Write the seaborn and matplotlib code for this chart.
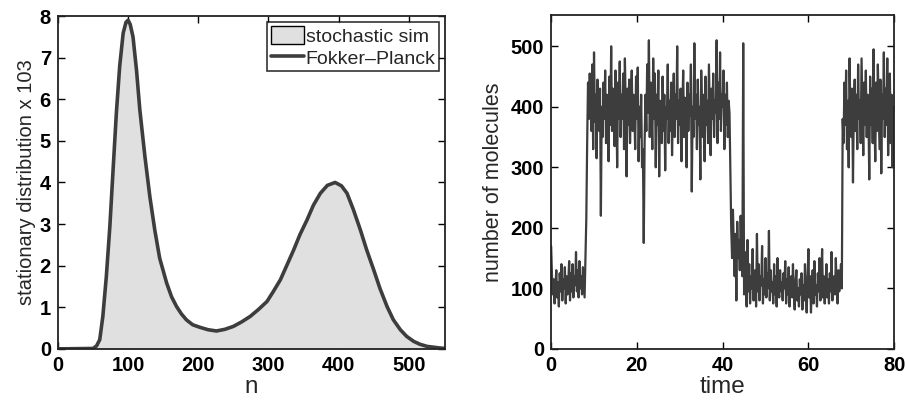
import numpy as np
import pandas as pd
import seaborn as sns
import matplotlib
matplotlib.use('Agg')
import matplotlib.pyplot as plt
from matplotlib.patches import Patch
from matplotlib.lines import Line2D

# left panel: stationary distribution (x 10^3)
n_vals = [0, 50, 55, 59.6, 64, 69, 74, 78.6, 83.3, 88, 93, 97, 100, 103, 107, 112,
          116.7, 124, 131, 138, 145, 155, 162, 169, 176, 183, 192, 202, 214, 226,
          238, 250, 262, 274, 286, 298, 307, 317, 326, 336, 345, 355, 364, 374, 384,
          395, 404, 412, 421, 431, 440, 450, 459, 469, 478, 488, 497, 507, 516, 526,
          545, 552]
p_vals = [0, 0.01, 0.07, 0.22, 0.78, 1.74, 2.94, 4.3, 5.67, 6.79, 7.59, 7.85, 7.9,
          7.8, 7.5, 6.7, 5.75, 4.62, 3.66, 2.86, 2.18, 1.58, 1.25, 1.02, 0.84, 0.70,
          0.58, 0.52, 0.46, 0.43, 0.47, 0.54, 0.65, 0.78, 0.95, 1.14, 1.38, 1.66, 2.0,
          2.38, 2.75, 3.1, 3.45, 3.74, 3.93, 4.0, 3.92, 3.74, 3.35, 2.86, 2.38, 1.9,
          1.45, 1.02, 0.7, 0.46, 0.3, 0.18, 0.11, 0.06, 0.02, 0.01]

# right panel: number of molecules, sampled every 0.2 time units
molecules = [
    170, 120, 90, 115, 75, 105, 130, 85, 110, 70,
    125, 95, 140, 80, 115, 100, 135, 75, 120, 90,
    110, 145, 80, 125, 95, 140, 85, 120, 105, 160,
    95, 130, 85, 145, 100, 120, 90, 135, 110, 85,
    150, 215, 340, 440, 380, 455, 400, 360, 470, 330,
    490, 375, 420, 315, 445, 390, 360, 430, 220, 400,
    350, 440, 380, 460, 340, 420, 400, 310, 450, 370,
    500, 360, 430, 390, 335, 460, 410, 300, 440, 380,
    475, 350, 420, 380, 455, 330, 480, 400, 285, 430,
    370, 445, 340, 410, 460, 360, 420, 390, 330, 450,
    380, 465, 310, 400, 350, 420, 300, 330, 175, 340,
    420, 360, 470, 390, 510, 350, 440, 400, 330, 480,
    380, 455, 300, 420, 370, 460, 285, 410, 390, 340,
    450, 360, 420, 295, 400, 380, 470, 340, 410, 360,
    440, 320, 400, 455, 350, 420, 380, 500, 340, 410,
    370, 430, 310, 400, 460, 350, 415, 380, 300, 440,
    360, 420, 385, 470, 260, 400, 350, 505, 380, 420,
    330, 445, 370, 400, 280, 460, 390, 350, 420, 310,
    450, 370, 410, 340, 470, 395, 320, 430, 380, 455,
    350, 410, 390, 510, 340, 440, 380, 490, 360, 420,
    400, 460, 330, 420, 370, 440, 350, 410, 390, 300,
    200, 150, 230, 170, 120, 190, 80, 210, 150, 180,
    130, 220, 160, 120, 505, 90, 160, 110, 70, 180,
    95, 140, 75, 120, 100, 165, 80, 115, 130, 70,
    190, 95, 140, 80, 120, 105, 170, 75, 115, 90,
    150, 85, 125, 100, 195, 80, 130, 95, 110, 75,
    140, 90, 120, 70, 150, 100, 85, 130, 95, 110,
    80, 125, 100, 145, 75, 115, 90, 135, 70, 105,
    120, 85, 140, 95, 65, 110, 130, 80, 100, 70,
    115, 90, 125, 65, 105, 80, 140, 95, 60, 110,
    165, 85, 120, 60, 100, 130, 75, 145, 90, 105,
    70, 125, 95, 150, 80, 110, 165, 85, 120, 75,
    100, 140, 85, 115, 75, 125, 95, 160, 80, 110,
    120, 90, 150, 100, 75, 130, 95, 115, 140, 100,
    380, 340, 440, 370, 460, 330, 410, 300, 480, 390,
    350, 430, 275, 400, 445, 360, 420, 330, 470, 380,
    410, 340, 480, 395, 320, 440, 370, 460, 350, 420,
    390, 280, 450, 370, 430, 340, 495, 380, 310, 440,
    360, 470, 400, 330, 445, 290, 420, 380, 490, 350,
    430, 370, 480, 320, 410, 455, 340, 420, 300, 400,
    380]
time_vals = np.linspace(0, 80, len(molecules))

left_xticks = [0, 100, 200, 300, 400, 500]
left_yticks = [0, 1, 2, 3, 4, 5, 6, 7, 8]
right_xticks = [0, 20, 40, 60, 80]
right_yticks = [0, 100, 200, 300, 400, 500]

sns.set_style('ticks')
plt.rcParams['font.family'] = ['Liberation Sans', 'DejaVu Sans']
plt.rcParams['xtick.direction'] = 'in'
plt.rcParams['ytick.direction'] = 'in'

line_col = '#3d3d3d'
fill_col = '#e0e0e0'

dist = pd.DataFrame({'n': n_vals, 'p': p_vals})
traj = pd.DataFrame({'time': time_vals, 'molecules': molecules})

fig = plt.figure(figsize=(9.05, 4.01), dpi=100)
ax1 = fig.add_axes([0.064, 0.130, 0.428, 0.830])
ax2 = fig.add_axes([0.609, 0.130, 0.379, 0.833])

# left panel
ax1.fill_between(dist['n'], dist['p'], 0, color=fill_col, lw=0)
sns.lineplot(data=dist, x='n', y='p', ax=ax1, color=line_col, lw=2.6)
ax1.set_xlim(0, 552)
ax1.set_ylim(0, 8)
ax1.set_xticks(left_xticks)
ax1.set_yticks(left_yticks)
ax1.set_xlabel('n', fontsize=17.5, labelpad=1)
ax1.set_ylabel('stationary distribution x 103', fontsize=14.5, labelpad=3)
handles = [Patch(facecolor=fill_col, edgecolor='black', lw=1.0),
           Line2D([0], [0], color=line_col, lw=2.6)]
leg = ax1.legend(handles, ['stochastic sim', 'Fokker\u2013Planck'], loc='upper right',
                 fontsize=14, frameon=True, fancybox=False, borderaxespad=0.3,
                 handlelength=1.7, handleheight=1.1, handletextpad=0.1,
                 borderpad=0.2, labelspacing=0.1)
leg.get_frame().set_edgecolor('black')
leg.get_frame().set_linewidth(1.2)

# right panel
sns.lineplot(data=traj, x='time', y='molecules', ax=ax2, color=line_col, lw=1.6)
ax2.set_xlim(0, 80)
ax2.set_ylim(0, 552)
ax2.set_xticks(right_xticks)
ax2.set_yticks(right_yticks)
ax2.set_xlabel('time', fontsize=17.5, labelpad=1)
ax2.set_ylabel('number of molecules', fontsize=15.5, labelpad=5)

for ax in (ax1, ax2):
    ax.tick_params(axis='both', which='both', top=True, right=True, length=5,
                   width=1.0, labelsize=14.5, pad=5, colors='black')
    for lab in ax.get_xticklabels() + ax.get_yticklabels():
        lab.set_fontweight('bold')
    for sp in ax.spines.values():
        sp.set_visible(True)
        sp.set_linewidth(1.3)
        sp.set_color('#222222')

fig.savefig('out.png', dpi=100)
